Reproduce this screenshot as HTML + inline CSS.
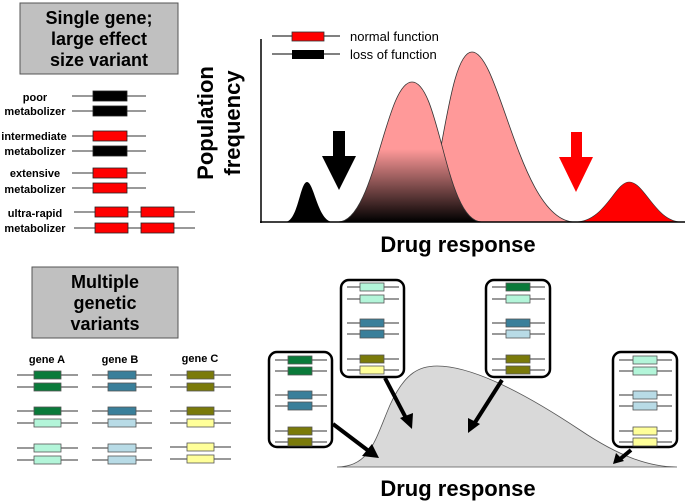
<!DOCTYPE html>
<html><head><meta charset="utf-8"><style>
html,body{margin:0;padding:0;background:#fff}
svg{display:block}
text{font-family:"Liberation Sans",Arial,sans-serif}
.b{font-weight:bold}
</style></head><body>
<svg width="689" height="504" viewBox="0 0 689 504" xmlns="http://www.w3.org/2000/svg">
<defs>
<linearGradient id="g1" x1="0" y1="0" x2="0" y2="1" gradientUnits="objectBoundingBox">
<stop offset="0" stop-color="#f99"/><stop offset="0.48" stop-color="#f99"/><stop offset="1" stop-color="#000"/>
</linearGradient>
</defs>
<!-- Top-left box -->
<rect x="20" y="3" width="158" height="71" fill="#c0c0c0" stroke="#555" stroke-width="1"/>
<g class="b" font-size="18" text-anchor="middle" font-weight="bold">
<text x="99" y="24" font-weight="bold">Single gene;</text>
<text x="99" y="45" font-weight="bold">large effect</text>
<text x="99" y="66" font-weight="bold">size variant</text>
</g>
<g font-size="11" font-weight="bold" text-anchor="middle">
<text x="35" y="101">poor</text><text x="35" y="115">metabolizer</text>
<text x="34" y="140">intermediate</text><text x="35" y="155">metabolizer</text>
<text x="35" y="177">extensive</text><text x="35" y="193">metabolizer</text>
<text x="35" y="217">ultra-rapid</text><text x="35" y="232">metabolizer</text>
</g>
<g stroke="#333" stroke-width="1">
<line x1="72" y1="96" x2="146" y2="96"/><line x1="72" y1="111" x2="146" y2="111"/>
<line x1="72" y1="136" x2="146" y2="136"/><line x1="72" y1="151" x2="146" y2="151"/>
<line x1="72" y1="173" x2="146" y2="173"/><line x1="72" y1="188" x2="146" y2="188"/>
<line x1="74" y1="212" x2="195" y2="212"/><line x1="74" y1="228" x2="195" y2="228"/>
</g>
<g stroke="#222" stroke-width="0.8">
<rect x="93" y="91" width="34" height="10" fill="#000"/><rect x="93" y="106" width="34" height="10" fill="#000"/>
<rect x="93" y="131" width="34" height="10" fill="#f00"/><rect x="93" y="146" width="34" height="10" fill="#000"/>
<rect x="93" y="168" width="34" height="10" fill="#f00"/><rect x="93" y="183" width="34" height="10" fill="#f00"/>
<rect x="95" y="207" width="33" height="10" fill="#f00"/><rect x="141" y="207" width="33" height="10" fill="#f00"/>
<rect x="95" y="223" width="33" height="10" fill="#f00"/><rect x="141" y="223" width="33" height="10" fill="#f00"/>
</g>
<!-- Population frequency -->
<g font-size="22" font-weight="bold" text-anchor="middle">
<text transform="translate(213,123) rotate(-90)">Population</text>
<text transform="translate(240,123) rotate(-90)">frequency</text>
</g>
<!-- curves -->
<path d="M415,222 C440,222 445,52 472,52 C500,52 520,222 575,222 Z" fill="#f99" stroke="#333" stroke-width="0.8"/>
<path d="M338,222 C375,222 385,82 412,82 C440,82 445,222 482,222 Z" fill="url(#g1)" stroke="#333" stroke-width="0.8"/>
<path d="M285,222 C298,222 300,182 307,182 C314,182 318,222 333,222 Z" fill="#000"/>
<path d="M575,222 C605,222 615,182 629,182 C645,182 655,222 682,222 Z" fill="#f00" stroke="#333" stroke-width="0.6"/>
<polygon points="333,131 345,131 345,156 356,156 339,190 322,156 333,156" fill="#000"/>
<polygon points="571,132 582,132 582,157 593,157 576,192 559,157 571,157" fill="#f00"/>
<line x1="261" y1="39" x2="261" y2="223" stroke="#000" stroke-width="1.5"/>
<line x1="260" y1="222" x2="685" y2="222" stroke="#000" stroke-width="1.5"/>
<!-- legend -->
<line x1="272" y1="36" x2="340" y2="36" stroke="#000"/>
<rect x="292" y="32" width="32" height="9" fill="#f00" stroke="#333" stroke-width="0.8"/>
<line x1="272" y1="54" x2="340" y2="54" stroke="#000"/>
<rect x="292" y="50" width="32" height="9" fill="#000"/>
<text x="350" y="41" font-size="13">normal function</text>
<text x="350" y="59" font-size="13">loss of function</text>
<text x="458" y="252" font-size="22" font-weight="bold" text-anchor="middle">Drug response</text>
<!-- Bottom-left box -->
<rect x="32" y="267" width="146" height="71" fill="#c0c0c0" stroke="#555" stroke-width="1"/>
<g font-size="18" font-weight="bold" text-anchor="middle">
<text x="105" y="288">Multiple</text><text x="105" y="309">genetic</text><text x="105" y="330">variants</text>
</g>
<g font-size="11" font-weight="bold" text-anchor="middle">
<text x="47" y="363">gene A</text><text x="120" y="363">gene B</text><text x="200" y="362">gene C</text>
</g>
<g stroke="#333" stroke-width="1">
<line x1="17" y1="375" x2="78" y2="375"/><line x1="17" y1="387" x2="78" y2="387"/>
<line x1="17" y1="411" x2="78" y2="411"/><line x1="17" y1="423" x2="78" y2="423"/>
<line x1="17" y1="448" x2="78" y2="448"/><line x1="17" y1="460" x2="78" y2="460"/>
<line x1="92" y1="375" x2="152" y2="375"/><line x1="92" y1="387" x2="152" y2="387"/>
<line x1="92" y1="411" x2="152" y2="411"/><line x1="92" y1="423" x2="152" y2="423"/>
<line x1="92" y1="448" x2="152" y2="448"/><line x1="92" y1="460" x2="152" y2="460"/>
<line x1="170" y1="375" x2="231" y2="375"/><line x1="170" y1="387" x2="231" y2="387"/>
<line x1="170" y1="411" x2="231" y2="411"/><line x1="170" y1="423" x2="231" y2="423"/>
<line x1="170" y1="447" x2="231" y2="447"/><line x1="170" y1="459" x2="231" y2="459"/>
</g>
<g stroke="#555" stroke-width="0.8">
<rect x="34" y="371" width="27" height="8" fill="#0a7a3a"/><rect x="34" y="383" width="27" height="8" fill="#0a7a3a"/>
<rect x="34" y="407" width="27" height="8" fill="#0a7a3a"/><rect x="34" y="419" width="27" height="8" fill="#b3f5d9"/>
<rect x="34" y="444" width="27" height="8" fill="#b3f5d9"/><rect x="34" y="456" width="27" height="8" fill="#b3f5d9"/>
<rect x="108" y="371" width="28" height="8" fill="#3a7f9a"/><rect x="108" y="383" width="28" height="8" fill="#3a7f9a"/>
<rect x="108" y="407" width="28" height="8" fill="#3a7f9a"/><rect x="108" y="419" width="28" height="8" fill="#b8dbe6"/>
<rect x="108" y="444" width="28" height="8" fill="#b8dbe6"/><rect x="108" y="456" width="28" height="8" fill="#b8dbe6"/>
<rect x="187" y="371" width="27" height="8" fill="#7a7a0a"/><rect x="187" y="383" width="27" height="8" fill="#7a7a0a"/>
<rect x="187" y="407" width="27" height="8" fill="#7a7a0a"/><rect x="187" y="419" width="27" height="8" fill="#ffff99"/>
<rect x="187" y="443" width="27" height="8" fill="#ffff99"/><rect x="187" y="455" width="27" height="8" fill="#ffff99"/>
</g>
<!-- bottom distribution -->
<path d="M337,467 C370,467 375,440 390,405 C405,372 420,366 437,366 C470,366 520,390 580,430 C620,457 650,467 677,467 Z" fill="#d9d9d9" stroke="#555" stroke-width="0.8"/>
<!-- arrows -->
<g stroke="#000" stroke-width="4">
<line x1="333" y1="424" x2="370" y2="452"/>
<line x1="385" y1="378" x2="407" y2="420"/>
<line x1="502" y1="380" x2="474" y2="424"/>
<line x1="631" y1="450" x2="619" y2="460"/>
</g>
<polygon points="379,458 362,456 372,444" fill="#000"/>
<polygon points="412,429 400,418 413,413" fill="#000"/>
<polygon points="468,433 468,418 480,424" fill="#000"/>
<polygon points="613,464 616,453 624,461" fill="#000"/>
<!-- boxes -->
<g fill="#fff" stroke="#000" stroke-width="2.5">
<rect x="269" y="352" width="63" height="95" rx="8"/>
<rect x="341" y="280" width="63" height="97" rx="8"/>
<rect x="486" y="280" width="64" height="97" rx="8"/>
<rect x="613" y="352" width="64" height="95" rx="8"/>
</g>
<g stroke="#333" stroke-width="1">
<path d="M275,360H327M275,371H327M275,395H327M275,406H327M275,431H327M275,442H327"/>
<path d="M347,287H399M347,299H399M347,323H399M347,334H399M347,359H399M347,370H399"/>
<path d="M492,287H545M492,299H545M492,323H545M492,334H545M492,359H545M492,370H545"/>
<path d="M619,360H672M619,371H672M619,395H672M619,406H672M619,431H672M619,442H672"/>
</g>
<g stroke="#555" stroke-width="0.8">
<rect x="288" y="356" width="24" height="8" fill="#0a7a3a"/><rect x="288" y="367" width="24" height="8" fill="#0a7a3a"/>
<rect x="288" y="391" width="24" height="8" fill="#3a7f9a"/><rect x="288" y="402" width="24" height="8" fill="#3a7f9a"/>
<rect x="288" y="427" width="24" height="8" fill="#7a7a0a"/><rect x="288" y="438" width="24" height="8" fill="#7a7a0a"/>
<rect x="360" y="283" width="24" height="8" fill="#b3f5d9"/><rect x="360" y="295" width="24" height="8" fill="#b3f5d9"/>
<rect x="360" y="319" width="24" height="8" fill="#3a7f9a"/><rect x="360" y="330" width="24" height="8" fill="#3a7f9a"/>
<rect x="360" y="355" width="24" height="8" fill="#7a7a0a"/><rect x="360" y="366" width="24" height="8" fill="#ffff99"/>
<rect x="506" y="283" width="24" height="8" fill="#0a7a3a"/><rect x="506" y="295" width="24" height="8" fill="#b3f5d9"/>
<rect x="506" y="319" width="24" height="8" fill="#3a7f9a"/><rect x="506" y="330" width="24" height="8" fill="#b8dbe6"/>
<rect x="506" y="355" width="24" height="8" fill="#7a7a0a"/><rect x="506" y="366" width="24" height="8" fill="#7a7a0a"/>
<rect x="633" y="356" width="24" height="8" fill="#b3f5d9"/><rect x="633" y="367" width="24" height="8" fill="#b3f5d9"/>
<rect x="633" y="391" width="24" height="8" fill="#b8dbe6"/><rect x="633" y="402" width="24" height="8" fill="#b8dbe6"/>
<rect x="633" y="427" width="24" height="8" fill="#ffff99"/><rect x="633" y="438" width="24" height="8" fill="#ffff99"/>
</g>
<text x="458" y="496" font-size="22" font-weight="bold" text-anchor="middle">Drug response</text>
</svg>
</body></html>
